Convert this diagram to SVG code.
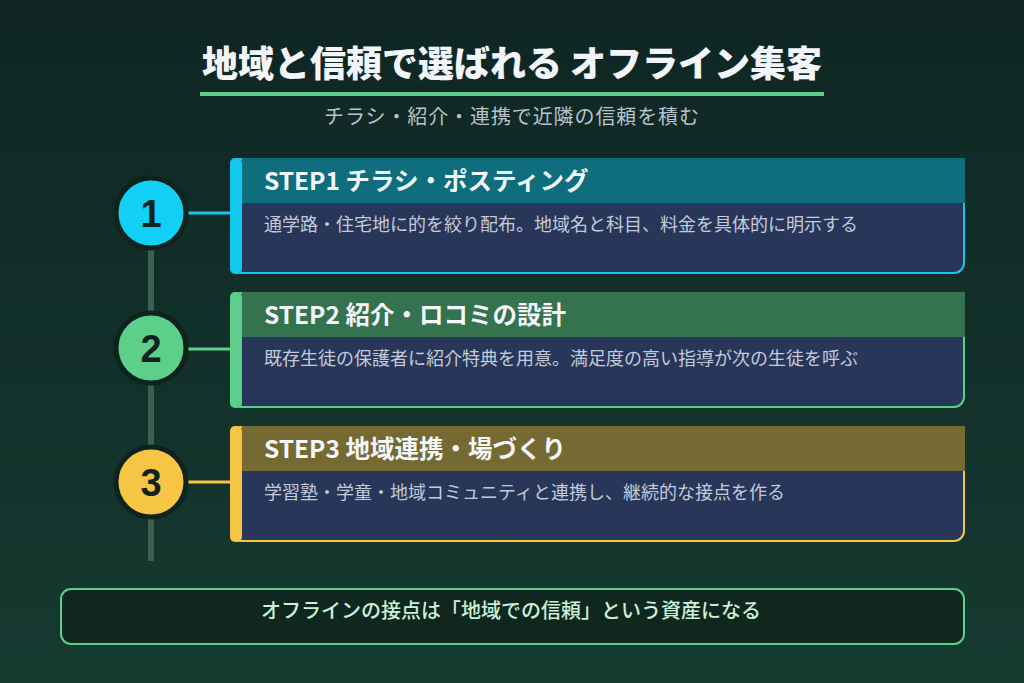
<svg xmlns="http://www.w3.org/2000/svg" width="1024" height="683" viewBox="0 0 1024 683">
<defs>
<linearGradient id="bg" x1="0" y1="0" x2="0" y2="1">
<stop offset="0" stop-color="#0f2623"/>
<stop offset="1" stop-color="#153a30"/>
</linearGradient>
<style>
text{font-family:"Noto Sans CJK JP","Noto Sans",sans-serif}
.title{font-size:36px;font-weight:900;fill:#f2f5fa}
.sub{font-size:20px;fill:#b7c3cf;letter-spacing:0.9px}
.head{font-size:24.5px;font-weight:700;fill:#f4f7fb}
.body{font-size:18px;fill:#c3cbdb}
.num{font-family:"Liberation Sans","DejaVu Sans",sans-serif;font-size:38px;font-weight:900;fill:#10241e}
.card{fill:#283659;stroke-width:2}
.circ{stroke:#0e231d;stroke-width:5}
.note{font-size:20px;font-weight:500;fill:#c9f0d8}
</style>
</defs>
<rect width="1024" height="683" fill="url(#bg)"/>
<g id="title">
<text class="title" x="512" y="77" text-anchor="middle">地域と信頼で選ばれる オフライン集客</text>
<rect x="200" y="92" width="624" height="4" fill="#5ccf8a"/>
<text class="sub" x="512" y="124" text-anchor="middle">チラシ・紹介・連携で近隣の信頼を積む</text>
</g>
<g id="connectors">
<line x1="151" y1="213" x2="151" y2="561" stroke="#3d5f50" stroke-width="6"/>
<line x1="186" y1="213" x2="232" y2="213" stroke="#12c8ee" stroke-width="3"/>
<line x1="186" y1="349" x2="232" y2="349" stroke="#5ccf8a" stroke-width="3"/>
<line x1="186" y1="482" x2="232" y2="482" stroke="#f7c544" stroke-width="3"/>
</g>
<g id="step1">
<rect class="card" x="231" y="159" width="733" height="114" rx="10" stroke="#12c8ee"/>
<rect x="242" y="158" width="723" height="45" fill="#0e6e7d"/>
<rect x="230" y="158" width="12" height="116" rx="5" fill="#12c8ee"/>
<text class="head" x="264" y="190">STEP1 チラシ・ポスティング</text>
<text class="body" x="264" y="231">通学路・住宅地に的を絞り配布。地域名と科目、料金を具体的に明示する</text>
<circle class="circ" cx="151" cy="213" r="35" fill="#12d0f5"/>
<text class="num" x="151" y="227" text-anchor="middle">1</text>
</g>
<g id="step2">
<rect class="card" x="231" y="293" width="733" height="114" rx="10" stroke="#5ccf8a"/>
<rect x="242" y="292" width="723" height="45" fill="#35724e"/>
<rect x="230" y="292" width="12" height="116" rx="5" fill="#5ccf8a"/>
<text class="head" x="264" y="324">STEP2 紹介・ロコミの設計</text>
<text class="body" x="264" y="365">既存生徒の保護者に紹介特典を用意。満足度の高い指導が次の生徒を呼ぶ</text>
<circle class="circ" cx="151" cy="348" r="35" fill="#5ccf8a"/>
<text class="num" x="151" y="362" text-anchor="middle">2</text>
</g>
<g id="step3">
<rect class="card" x="231" y="427" width="733" height="114" rx="10" stroke="#f7c544"/>
<rect x="242" y="426" width="723" height="45" fill="#766a33"/>
<rect x="230" y="426" width="12" height="116" rx="5" fill="#f7c544"/>
<text class="head" x="264" y="458">STEP3 地域連携・場づくり</text>
<text class="body" x="264" y="499">学習塾・学童・地域コミュニティと連携し、継続的な接点を作る</text>
<circle class="circ" cx="151" cy="482" r="35" fill="#f7c544"/>
<text class="num" x="151" y="496" text-anchor="middle">3</text>
</g>
<g id="note">
<rect x="61" y="589" width="903" height="55" rx="10" fill="#10271f" stroke="#5ccf8a" stroke-width="2"/>
<text class="note" x="511" y="618" text-anchor="middle">オフラインの接点は「地域での信頼」という資産になる</text>
</g>
</svg>
